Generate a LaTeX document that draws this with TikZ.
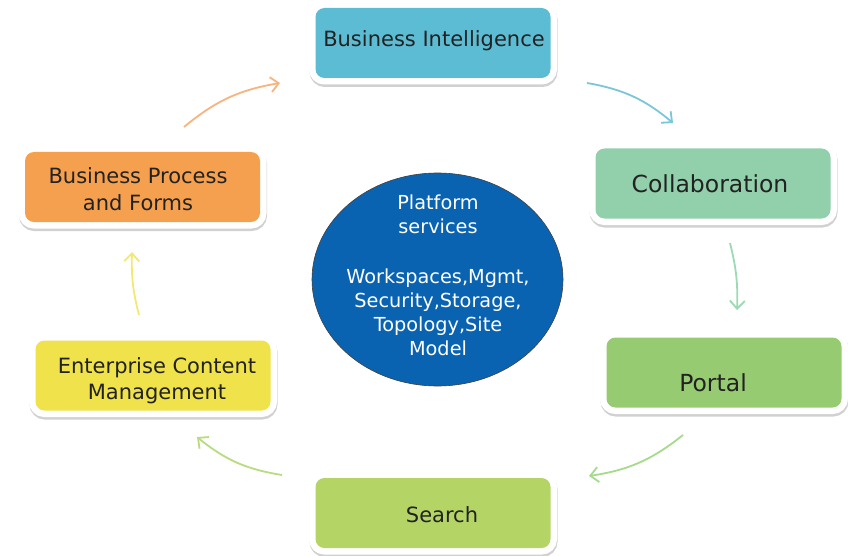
\documentclass[tikz,border=0pt]{standalone}
\usepackage{fontspec}
\setmainfont{DejaVu Sans}
\usetikzlibrary{shapes.geometric,arrows.meta}
\definecolor{txt}{HTML}{222222}
\definecolor{biC}{HTML}{5BBCD3}
\definecolor{coC}{HTML}{92CFAB}
\definecolor{bpC}{HTML}{F5A04F}
\definecolor{ecC}{HTML}{EFE24B}
\definecolor{poC}{HTML}{97CB72}
\definecolor{seC}{HTML}{B4D466}
\definecolor{psC}{HTML}{0A63B1}
\definecolor{arO}{HTML}{F8B47E}
\definecolor{arB}{HTML}{7CC6DA}
\definecolor{arM}{HTML}{9ED9B5}
\definecolor{arG}{HTML}{A6DB8C}
\definecolor{arL}{HTML}{B9DC80}
\definecolor{arY}{HTML}{F2EA70}
\tikzset{
  box/.style={fill=#1, rounded corners=9pt, minimum width=235pt, minimum height=70pt, inner sep=0pt,
    preaction={draw=black!18, line width=13pt, transform canvas={xshift=0.5pt, yshift=-2.5pt}},
    preaction={draw=white, line width=13pt}},
  lab/.style={text=txt, font=\fontsize{21}{26}\selectfont, align=center, inner sep=0pt, anchor=base},
  labbig/.style={lab, font=\fontsize{23.5}{28}\selectfont},
  arr/.style={draw=#1, line width=1.8pt, -{Straight Barb[length=8pt,width=15pt]}}
}
\begin{document}
\begin{tikzpicture}[x=1pt, y=-1pt]
\useasboundingbox[fill=white] (0,0) rectangle (848,556);
% boxes
\node[box=biC] (bi) at (433,43) {};
\node[box=coC] (co) at (713,183.5) {};
\node[box=bpC] (bp) at (142.5,187) {};
\node[box=ecC] (ec) at (153,375.5) {};
\node[box=poC] (po) at (724,372.5) {};
\node[box=seC] (se) at (433,513) {};
% labels (anchor = baseline of last line)
\node[lab] (bit) at (434,47) {Business Intelligence};
\node[labbig] (cot) at (710,193) {Collaboration};
\node[lab] (bpt) at (138,210) {Business Process\\and Forms};
\node[lab] (ect) at (157,399) {Enterprise Content\\Management};
\node[labbig] (pot) at (713,391) {Portal};
\node[lab] (set) at (442,522) {Search};
% platform circle
\node[ellipse, draw=black!75, line width=0.6pt, fill=psC, minimum width=251pt, minimum height=213pt, inner sep=0pt] (ps) at (437.5,279.5) {};
\node[lab, text=white, font=\fontsize{19.3}{24}\selectfont] (pst) at (438,355)
  {Platform\\services\\[26pt]Workspaces,Mgmt,\\Security,Storage,\\Topology,Site\\Model};
% arrow ends
\coordinate (a1s) at (184,127); \coordinate (a1e) at (280,83);
\coordinate (a2s) at (587,83);  \coordinate (a2e) at (673,123);
\coordinate (a3s) at (730,243); \coordinate (a3e) at (737,310);
\coordinate (a4s) at (683,435); \coordinate (a4e) at (589,476);
\coordinate (a5s) at (282,475); \coordinate (a5e) at (197,437);
\coordinate (a6s) at (139,315); \coordinate (a6e) at (132,252);
\draw[arr=arO] (a1s) to[bend left=15] (a1e);
\draw[arr=arB] (a2s) to[bend left=15] (a2e);
\draw[arr=arM] (a3s) to[bend left=8] (a3e);
\draw[arr=arG] (a4s) to[bend left=15] (a4e);
\draw[arr=arL] (a5s) to[bend left=15] (a5e);
\draw[arr=arY] (a6s) to[bend left=8] (a6e);
\end{tikzpicture}
\end{document}
